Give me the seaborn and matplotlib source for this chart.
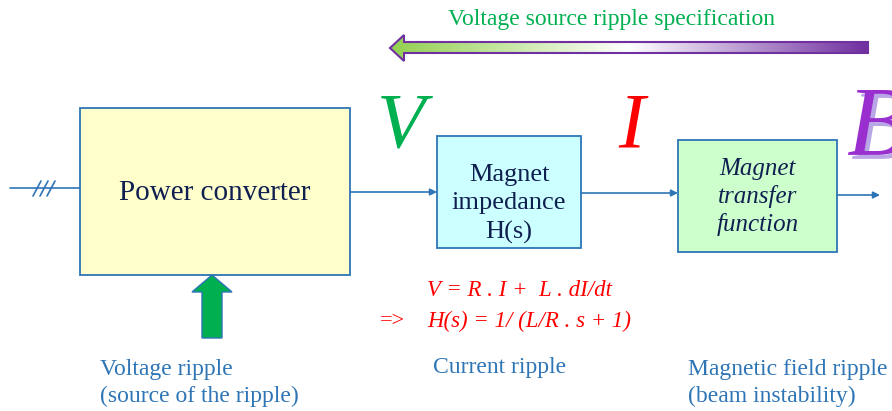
import matplotlib
matplotlib.use("Agg")
import matplotlib.pyplot as plt
import numpy as np
import seaborn as sns
from matplotlib.colors import LinearSegmentedColormap
from matplotlib.patches import Polygon, Rectangle

# diagram content
spec_label = "Voltage source ripple specification"
block_labels = ["Power converter", "Magnet\nimpedance\nH(s)", "Magnet\ntransfer\nfunction"]
signal_letters = ["V", "I", "B"]
ripple_labels = ["Voltage ripple\n(source of the ripple)", "Current ripple",
                 "Magnetic field ripple\n(beam instability)"]
equation_lines = ["V = R . I +  L . dI/dt", "H(s) = 1/ (L/R . s + 1)"]
implies_sign = "=>"

# layout (pixel units, y downwards)
block_boxes = [(80, 108, 270, 167), (437, 136, 144, 112), (678, 140, 159, 112)]
block_fills = ["#ffffcc", "#ccffff", "#ccffcc"]
block_sizes = [21, 19, 18]
block_styles = ["normal", "normal", "italic"]
block_spacing = [1.2, 1.4, 1.3]
block_text_dy = [1, 12, 1]
letter_pos = [(401, 146), (632, 146), (846, 154)]
letter_sizes = [57, 57, 72]
letter_colors = ["#00b050", "#ff0000", "#9a2fd0"]
ripple_pos = [(100, 383), (433, 367), (688, 383)]

sns.set_theme(style="white")
plt.rcParams["font.family"] = ["Liberation Serif", "DejaVu Serif"]

blue = "#2e75b6"
navy = "#0f1f50"

fig = plt.figure(figsize=(8.92, 4.11), dpi=100)
ax = fig.add_axes([0, 0, 1, 1])
ax.set_xlim(0, 892)
ax.set_ylim(411, 0)
ax.axis("off")

# gradient arrow at the top
arrow_pts = [(390, 48), (404, 35), (404, 42), (868, 42), (868, 53), (404, 53), (404, 61)]
arrow_patch = Polygon(arrow_pts, closed=True, facecolor="none", edgecolor="#7030a0", lw=1.5, zorder=3)
ax.add_patch(arrow_patch)
cmap = LinearSegmentedColormap.from_list("spec", ["#92d050", "#ffffff", "#7030a0"])
grad = np.linspace(0, 1, 256).reshape(1, -1)
img = ax.imshow(grad, cmap=cmap, extent=(390, 868, 61, 35), aspect="auto", zorder=2)
img.set_clip_path(arrow_patch)
ax.set_xlim(0, 892)
ax.set_ylim(411, 0)
ax.text(612, 20, spec_label, color="#00b050", fontsize=17, ha="center", va="center")

# blocks
for (x, y, w, h), fill, label, size, style, ls, dy in zip(block_boxes, block_fills, block_labels,
                                                          block_sizes, block_styles, block_spacing,
                                                          block_text_dy):
    ax.add_patch(Rectangle((x, y), w, h, facecolor=fill, edgecolor=blue, lw=1.3, zorder=2))
    ax.text(x + w / 2, y + h / 2 + dy, label, color=navy, fontsize=size, fontstyle=style,
            ha="center", va="center", linespacing=ls, zorder=3)

# signal lines
ax.plot([10, 80], [188, 188], color=blue, lw=1.2)
for sx in [37, 44, 51]:
    ax.plot([sx - 4, sx + 4], [196, 181], color=blue, lw=1.2)
links = [(350, 437, 192), (581, 678, 193), (837, 880, 195)]
for x0, x1, y in links:
    ax.annotate("", xy=(x1, y), xytext=(x0, y),
                arrowprops=dict(arrowstyle="-|>", color=blue, lw=1.2, mutation_scale=10,
                                shrinkA=0, shrinkB=0))

# V, I, B letters
for (x, y), letter, col, size in zip(letter_pos, signal_letters, letter_colors, letter_sizes):
    if letter == "B":
        ax.text(x + 4, y + 4, letter, color="#b9a6e6", fontsize=size, fontstyle="italic",
                ha="left", va="baseline", clip_on=True)
        ax.text(x, y, letter, color=col, fontsize=size, fontstyle="italic",
                ha="left", va="baseline", clip_on=True)
    else:
        ax.text(x, y, letter, color=col, fontsize=size, fontstyle="italic",
                ha="center", va="baseline")

# green ripple arrow into the converter
up_pts = [(202, 338), (202, 292), (192, 292), (212, 275), (232, 292), (222, 292), (222, 338)]
ax.add_patch(Polygon(up_pts, closed=True, facecolor="#00b050", edgecolor=blue, lw=1, zorder=3))

# equations
ax.text(427, 290, equation_lines[0], color="#ff0000", fontsize=16.5, fontstyle="italic",
        ha="left", va="center")
ax.text(427, 321, equation_lines[1], color="#ff0000", fontsize=16.5, fontstyle="italic",
        ha="left", va="center")
ax.text(380, 321, implies_sign, color="#ff0000", fontsize=16, ha="left", va="center")

# ripple captions
for (x, y), label in zip(ripple_pos, ripple_labels):
    ax.text(x, y, label, color=blue, fontsize=17, ha="left", va="center", linespacing=1.35)

fig.savefig("out.png", dpi=100)
